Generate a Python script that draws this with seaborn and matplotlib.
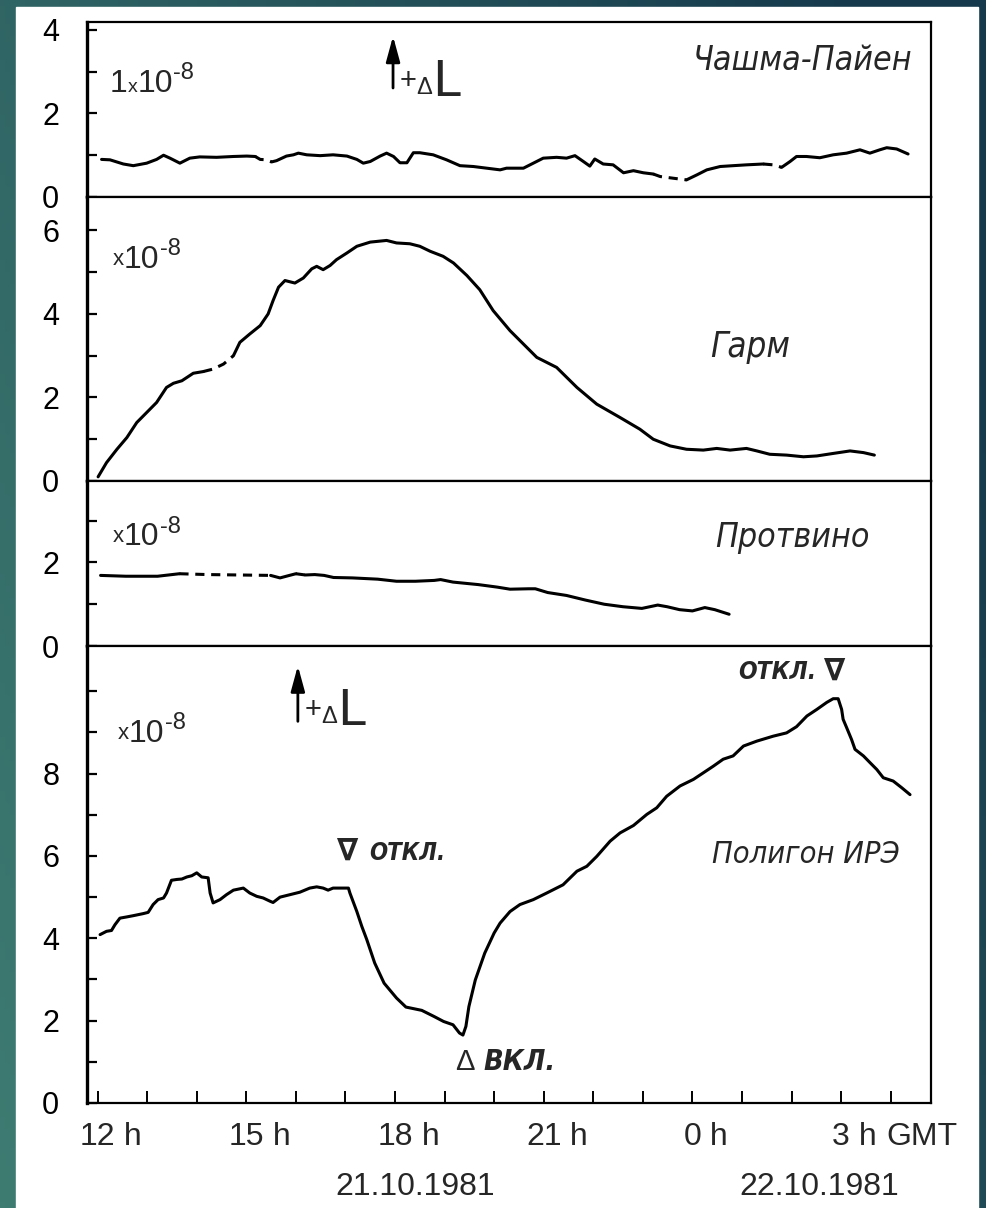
import numpy as np
import pandas as pd
import matplotlib
matplotlib.use("Agg")
import matplotlib.pyplot as plt
import seaborn as sns
from matplotlib import font_manager as fm
from matplotlib.patches import Rectangle

# ---------------- data (hours since 0h of 21.10.1981, strain x1e-8) ----------------
chashma_hours = [12.08, 12.25, 12.52, 12.72, 12.99, 13.19, 13.33, 13.46, 13.66, 13.86, 14.06, 14.40,
                 14.74, 15.01, 15.18, 15.28, 15.41, 15.51, 15.61, 15.81, 15.95, 16.05, 16.22, 16.49,
                 16.75, 17.03, 17.23, 17.36, 17.50, 17.70, 17.83, 17.97, 18.10, 18.24, 18.37, 18.50,
                 18.77, 19.04, 19.31, 19.58, 19.85, 20.12, 20.25, 20.59, 20.79, 20.99, 21.26, 21.46,
                 21.63, 21.80, 21.93, 22.03, 22.20, 22.40, 22.61, 22.81, 23.01, 23.21, 23.35, 23.61,
                 23.88, 24.09, 24.29, 24.56, 24.82, 25.09, 25.43, 25.63, 25.80, 25.97, 26.10, 26.30,
                 26.57, 26.84, 27.11, 27.38, 27.58, 27.78, 27.92, 28.12, 28.35]
chashma_vals = [0.90, 0.89, 0.79, 0.75, 0.81, 0.90, 1.00, 0.93, 0.81, 0.93, 0.96, 0.95,
                0.97, 0.98, 0.97, 0.90, 0.89, 0.84, 0.87, 0.98, 1.01, 1.05, 1.01, 0.99,
                1.01, 0.98, 0.90, 0.81, 0.85, 0.98, 1.05, 0.97, 0.82, 0.82, 1.06, 1.06,
                1.01, 0.89, 0.75, 0.73, 0.69, 0.65, 0.69, 0.69, 0.81, 0.93, 0.95, 0.93,
                0.99, 0.85, 0.74, 0.91, 0.79, 0.77, 0.58, 0.63, 0.58, 0.55, 0.49, 0.45,
                0.41, 0.53, 0.65, 0.73, 0.75, 0.77, 0.79, 0.77, 0.71, 0.85, 0.97, 0.97,
                0.94, 1.01, 1.05, 1.13, 1.05, 1.13, 1.18, 1.15, 1.03]
chashma_gaps = [(15.20, 15.50), (23.20, 23.95), (25.50, 25.80)]

garm_hours = [12.01, 12.18, 12.39, 12.59, 12.79, 12.99, 13.19, 13.39, 13.53, 13.70, 13.93, 14.13,
              14.33, 14.54, 14.74, 14.87, 15.07, 15.28, 15.44, 15.54, 15.65, 15.78, 15.98, 16.15,
              16.32, 16.42, 16.55, 16.69, 16.82, 17.03, 17.23, 17.50, 17.83, 18.03, 18.30, 18.50,
              18.71, 18.97, 19.18, 19.45, 19.71, 19.98, 20.32, 20.86, 21.26, 21.67, 22.07, 22.54,
              22.94, 23.21, 23.55, 23.88, 24.22, 24.49, 24.76, 25.09, 25.30, 25.56, 25.90, 26.24,
              26.51, 26.84, 27.18, 27.45, 27.67]
garm_vals = [0.10, 0.44, 0.76, 1.04, 1.40, 1.64, 1.88, 2.24, 2.34, 2.40, 2.58, 2.62,
             2.68, 2.80, 3.00, 3.32, 3.52, 3.72, 4.00, 4.32, 4.64, 4.80, 4.74, 4.86,
             5.08, 5.14, 5.06, 5.16, 5.30, 5.46, 5.62, 5.72, 5.76, 5.70, 5.68, 5.62,
             5.50, 5.38, 5.22, 4.92, 4.58, 4.08, 3.60, 2.96, 2.72, 2.24, 1.84, 1.52,
             1.24, 1.00, 0.84, 0.76, 0.74, 0.78, 0.74, 0.78, 0.72, 0.64, 0.62, 0.58,
             0.60, 0.66, 0.72, 0.68, 0.62]
garm_gaps = [(14.13, 14.75)]

protvino_hours = [12.06, 12.57, 13.21, 13.65, 14.22, 14.86, 15.49, 15.68, 15.87, 16.00, 16.19, 16.38,
                  16.57, 16.76, 17.14, 17.65, 18.03, 18.41, 18.79, 18.92, 19.17, 19.68, 20.06, 20.32,
                  20.70, 20.83, 21.08, 21.46, 21.84, 22.22, 22.60, 22.98, 23.30, 23.49, 23.74, 24.00,
                  24.25, 24.45, 24.74]
protvino_vals = [1.69, 1.67, 1.67, 1.73, 1.71, 1.70, 1.69, 1.63, 1.69, 1.73, 1.70, 1.71,
                 1.69, 1.64, 1.63, 1.60, 1.55, 1.55, 1.57, 1.59, 1.53, 1.47, 1.41, 1.36,
                 1.37, 1.37, 1.28, 1.21, 1.10, 1.00, 0.94, 0.90, 0.98, 0.94, 0.87, 0.84,
                 0.92, 0.87, 0.76]
protvino_gaps = [(13.65, 15.50), (16.00, 16.20)]

ire_hours = [12.05, 12.18, 12.28, 12.35, 12.45, 12.59, 12.72, 12.92, 13.02, 13.12, 13.22, 13.33,
             13.39, 13.49, 13.60, 13.70, 13.80, 13.90, 14.00, 14.10, 14.23, 14.27, 14.33, 14.47,
             14.60, 14.74, 14.94, 15.07, 15.21, 15.34, 15.48, 15.54, 15.68, 15.88, 16.08, 16.28,
             16.42, 16.55, 16.65, 16.75, 17.06, 17.09, 17.23, 17.33, 17.43, 17.59, 17.78, 18.03,
             18.22, 18.54, 18.79, 18.98, 19.17, 19.30, 19.37, 19.43, 19.49, 19.62, 19.81, 20.00,
             20.12, 20.32, 20.52, 20.79, 21.06, 21.39, 21.67, 21.87, 22.07, 22.34, 22.54, 22.81,
             23.08, 23.28, 23.48, 23.75, 24.02, 24.22, 24.42, 24.62, 24.82, 25.03, 25.30, 25.63,
             25.90, 26.10, 26.31, 26.51, 26.71, 26.84, 26.94, 27.01, 27.04, 27.11, 27.21, 27.28,
             27.45, 27.58, 27.72, 27.85, 28.05, 28.22, 28.39]
ire_vals = [4.09, 4.17, 4.19, 4.33, 4.49, 4.52, 4.55, 4.60, 4.63, 4.82, 4.94, 4.98,
            5.10, 5.41, 5.43, 5.44, 5.49, 5.52, 5.59, 5.49, 5.47, 5.10, 4.86, 4.94,
            5.06, 5.17, 5.22, 5.10, 5.02, 4.98, 4.90, 4.87, 5.00, 5.06, 5.12, 5.22,
            5.25, 5.22, 5.17, 5.22, 5.22, 5.10, 4.65, 4.29, 3.97, 3.40, 2.91, 2.55,
            2.33, 2.25, 2.10, 1.98, 1.90, 1.70, 1.65, 1.86, 2.34, 2.99, 3.64, 4.13,
            4.37, 4.65, 4.82, 4.94, 5.10, 5.30, 5.63, 5.75, 5.99, 6.36, 6.56, 6.74,
            7.01, 7.17, 7.45, 7.70, 7.86, 8.02, 8.18, 8.35, 8.43, 8.67, 8.79, 8.91,
            8.99, 9.14, 9.40, 9.56, 9.73, 9.82, 9.82, 9.56, 9.32, 9.12, 8.83, 8.59,
            8.43, 8.27, 8.10, 7.90, 7.82, 7.66, 7.49]
ire_gaps = []

station_names = ["Чашма-Пайен", "Гарм", "Протвино", "Полигон ИРЭ"]
hour_ticks = list(range(12, 29))
hour_labels = {12: "12", 15: "15", 18: "18", 21: "21", 24: "0", 27: "3"}
date_labels = ["21.10.1981", "22.10.1981"]

# ---------------- styling ----------------
sns.set_theme(style="white")
names = {f.name for f in fm.fontManager.ttflist}
SANS = "Liberation Sans" if "Liberation Sans" in names else "DejaVu Sans"

# look for a condensed face for the hand-lettered labels
cond_names = {f.name for f in fm.fontManager.ttflist
              if str(f.stretch) in ("condensed", "semi-condensed", "extra-condensed")}
HAND, STRETCH = SANS, "normal"
for cand in ["Liberation Sans Narrow", "DejaVu Sans", "Roboto Condensed", "Open Sans",
             "Noto Sans", "Roboto", "Open Sans Condensed"]:
    if cand in cond_names:
        HAND, STRETCH = cand, "condensed"
        break
plt.rcParams["font.family"] = [SANS, "DejaVu Sans"]
plt.rcParams["axes.unicode_minus"] = False
HANDF = [HAND, "DejaVu Sans"]

W, H = 987, 1208
fig = plt.figure(figsize=(W / 100, H / 100), dpi=100)
renderer = fig.canvas.get_renderer()

# background gradient + white sheet
bg = fig.add_axes([0, 0, 1, 1], zorder=-10)
gx, gy = np.meshgrid(np.linspace(0, 1, 200), np.linspace(0, 1, 200))
t = np.clip(0.75 * gx + 0.35 * (1 - gy), 0, 1)[..., None]
c0 = np.array([62, 124, 114]) / 255
c1 = np.array([22, 58, 76]) / 255
bg.imshow(c0 * (1 - t) + c1 * t, extent=[0, 1, 0, 1], aspect="auto", origin="upper")
bg.add_patch(Rectangle((16 / W, 0), (978 - 16) / W, 1 - 7 / H, color="white", zorder=2))
bg.set_axis_off()

L, Wd = 87 / W, (931 - 87) / W
tops = [22, 197, 481, 646]
bots = [197, 481, 646, 1103]
ylims = [4.19, 6.8, 3.95, 11.1]
ytick_max = [4, 6, 3, 10]
axes = []
for i in range(4):
    ax = fig.add_axes([L, 1 - bots[i] / H, Wd, (bots[i] - tops[i]) / H])
    ax.set_facecolor("white")
    ax.set_xlim(11.786, 28.813)
    ax.set_ylim(0, ylims[i])
    for s in ax.spines.values():
        s.set_color("black")
        s.set_linewidth(1.6)
    ax.spines["left"].set_linewidth(2.4)
    yt = list(range(0, ytick_max[i] + 1))
    ax.set_yticks(yt)
    ax.set_yticklabels([str(v) if (v % 2 == 0 and v <= 8) else "" for v in yt])
    ax.tick_params(axis="y", direction="in", length=7, width=1.6, pad=20,
                   labelsize=22, colors="black", left=True)
    ax.set_xticks([])
    axes.append(ax)


def draw_series(ax, hours, vals, gaps):
    df = pd.DataFrame({"h": hours, "v": vals})
    hv = df["h"].to_numpy()
    mids = (hv[:-1] + hv[1:]) / 2
    dashed = [any(a <= m <= b for a, b in gaps) for m in mids]
    start = 0
    for i in range(1, len(dashed) + 1):
        if i == len(dashed) or dashed[i] != dashed[start]:
            seg = df.iloc[start:i + 1]
            ls = (0, (3.0, 2.2)) if dashed[start] else "-"
            sns.lineplot(data=seg, x="h", y="v", ax=ax, color="black", linewidth=2.2,
                         linestyle=ls, sort=False, estimator=None, legend=False)
            start = i
    ax.set_xlabel("")
    ax.set_ylabel("")


draw_series(axes[0], chashma_hours, chashma_vals, chashma_gaps)
draw_series(axes[1], garm_hours, garm_vals, garm_gaps)
draw_series(axes[2], protvino_hours, protvino_vals, protvino_gaps)
draw_series(axes[3], ire_hours, ire_vals, ire_gaps)


def fit_text(ax, x, y, s, width_px, size, **kw):
    """Place text and shrink its font so it is no wider than width_px."""
    t = ax.text(x, y, s, fontsize=size, **kw)
    w = t.get_window_extent(renderer).width
    if w > width_px:
        t.set_fontsize(size * width_px / w)
    return t


def hand(ax, x, y, s, width_px, size, ha="left", bold=False):
    return fit_text(ax, x, y, s, width_px, size, style="italic", family=HANDF,
                    fontstretch=STRETCH, fontweight="bold" if bold else "normal",
                    va="center", ha=ha)


def chain(ax, x, y, parts):
    """parts: list of (text, size, dy_pt, family)"""
    prev = None
    for s, size, dy, fam in parts:
        if prev is None:
            prev = ax.text(x, y, s, fontsize=size, va="bottom", ha="left", family=fam)
        else:
            prev = ax.annotate(s, xy=(1, 0), xycoords=prev, xytext=(0, dy),
                               textcoords="offset points", fontsize=size,
                               va="bottom", ha="left", family=fam)
    return prev


def sci(ax, x, y, lead=True):
    parts = []
    if lead:
        parts.append(("1", 23, 0, [SANS]))
        parts.append(("x", 14, 2.2, [SANS]))
        parts.append(("10", 23, -2.2, [SANS]))
    else:
        parts.append(("x", 16, 0, [SANS]))
        parts.append(("10", 23, -3.5, [SANS]))
    parts.append(("-8", 17, 10.5, [SANS]))
    chain(ax, x, y, parts)


def delta_l(ax, x, y0, y1, ty):
    ax.annotate("", xy=(x, y1), xytext=(x, y0),
                arrowprops=dict(arrowstyle="-|>,head_length=1.1,head_width=0.3",
                                lw=2, color="black", shrinkA=0, shrinkB=0,
                                mutation_scale=14))
    chain(ax, x + 0.13, ty, [("+", 21, 1, [SANS]), ("Δ", 17, -3, [SANS]),
                             ("L", 36, -5, HANDF)])


# Panel 1
sci(axes[0], 12.25, 2.35, lead=True)
delta_l(axes[0], 17.96, 2.61, 3.85, 2.45)
hand(axes[0], 24.0, 3.28, station_names[0], 220, 32)
# Panel 2
sci(axes[1], 12.31, 5.05, lead=False)
hand(axes[1], 24.35, 3.2, station_names[1], 80, 31)
# Panel 3
sci(axes[2], 12.31, 2.36, lead=False)
hand(axes[2], 24.45, 2.6, station_names[2], 154, 31)
# Panel 4
ax = axes[3]
sci(ax, 12.41, 8.72, lead=False)
delta_l(ax, 16.04, 9.27, 10.62, 9.2)
hand(ax, 24.4, 6.03, station_names[3], 188, 32)
ax.text(17.05, 6.12, "∇", fontsize=22, fontweight="bold", family=["DejaVu Sans"],
        va="center", ha="center")
hand(ax, 17.47, 6.08, "ОТКЛ.", 76, 21, bold=True)
hand(ax, 26.50, 10.46, "ОТКЛ.", 78, 21, ha="right", bold=True)
ax.text(26.87, 10.49, "∇", fontsize=22, fontweight="bold", family=["DejaVu Sans"],
        va="center", ha="center")
ax.text(19.41, 1.0, "Δ", fontsize=21, family=[SANS], va="center", ha="center")
hand(ax, 19.78, 1.0, "ВКЛ.", 72, 21, bold=True)

# x axis: inward ticks, hour labels (number centred on tick, " h" to its right)
ax.set_xticks(hour_ticks)
ax.set_xticklabels([])
ax.tick_params(axis="x", direction="in", length=9, width=1.4, bottom=True, colors="black")
TL = 23
for hr, lab in hour_labels.items():
    ax.annotate(lab, xy=(hr, 0), xycoords=("data", "axes fraction"), xytext=(0, -24.5),
                textcoords="offset points", fontsize=TL, ha="center", va="center")
    half = len(lab) * 0.556 * TL / 2
    ax.annotate(" h", xy=(hr, 0), xycoords=("data", "axes fraction"), xytext=(half, -24.5),
                textcoords="offset points", fontsize=TL, ha="left", va="center")
ax.annotate("GMT", xy=(28.63, 0), xycoords=("data", "axes fraction"), xytext=(0, -24.5),
            textcoords="offset points", fontsize=TL, ha="center", va="center")
for hr, lab in zip([18.41, 26.56], date_labels):
    ax.annotate(lab, xy=(hr, 0), xycoords=("data", "axes fraction"), xytext=(0, -60.5),
                textcoords="offset points", fontsize=TL, ha="center", va="center")

fig.savefig("out.png", dpi=100)
